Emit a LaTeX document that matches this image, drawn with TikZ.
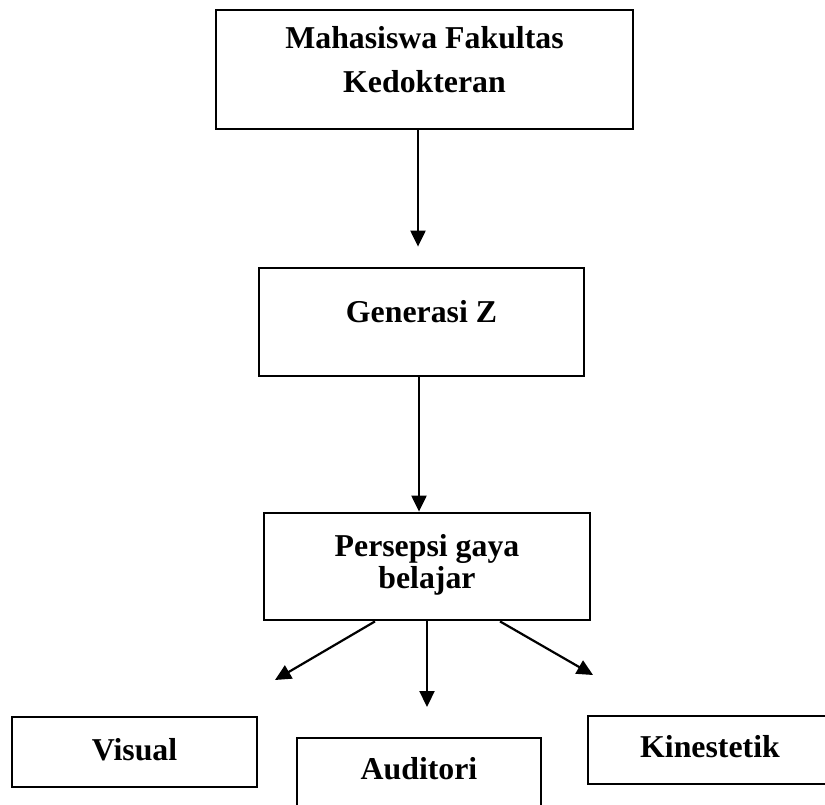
\documentclass[tikz,border=0pt]{standalone}
\usepackage{fontspec}
\setmainfont{Liberation Serif}
\usepackage{tikz}
\usetikzlibrary{arrows.meta}
\tikzset{
box/.style={draw, rectangle, line width=1.4pt, inner sep=0pt},
txt/.style={font=\fontsize{15.9}{16}\selectfont\bfseries, align=center, inner sep=0pt},
arr/.style={-{Triangle[length=8pt,width=7.5pt]}, line width=1.1pt}
}

\begin{document}
\begin{tikzpicture}[x=0.5pt,y=-0.5pt]

\useasboundingbox (0,0) rectangle (825,804);
\clip (0,0) rectangle (825,804);

\node [box, minimum width=208.5pt, minimum height=59.5pt,
  label={[txt, yshift=4.75pt]center:{Mahasiswa Fakultas\\[6pt]Kedokteran}}] (mhs) at (424.5,69.5) {};
\node [box, minimum width=162.5pt, minimum height=54pt,
  label={[txt, yshift=5.25pt]center:Generasi Z}] (gen) at (421.5,322) {};
\node [box, minimum width=163pt, minimum height=53.5pt,
  label={[txt, yshift=0.75pt]center:{Persepsi gaya\\belajar}}] (per) at (427,566.5) {};

% gaya belajar
\node [box, minimum width=122.5pt, minimum height=35pt,
  label={[txt, yshift=1.25pt]center:Visual}] (vis) at (134.5,752) {};
\node [box, minimum width=122pt, minimum height=35pt,
  label={[txt, yshift=2.25pt]center:Auditori}] (aud) at (419,773) {};
\node [box, minimum width=122pt, minimum height=34pt,
  label={[txt, yshift=1.5pt]center:Kinestetik}] (kin) at (710,750) {};

\coordinate (tipV) at (275,680);
\coordinate (tipA) at (427,707);
\coordinate (tipK) at (593,675);

\draw [arr] ([xshift=-3.25pt]mhs.south) -- ([xshift=-1.75pt,yshift=10pt]gen.north);
\draw [arr] ([xshift=-1.25pt]gen.south) -- ([xshift=-4pt]per.north);
\foreach \dx/\tip in {-26/tipV, 0/tipA, 36.5/tipK} {\draw [arr] ([xshift=\dx pt]per.south) -- (\tip);}

\end{tikzpicture}
\end{document}
